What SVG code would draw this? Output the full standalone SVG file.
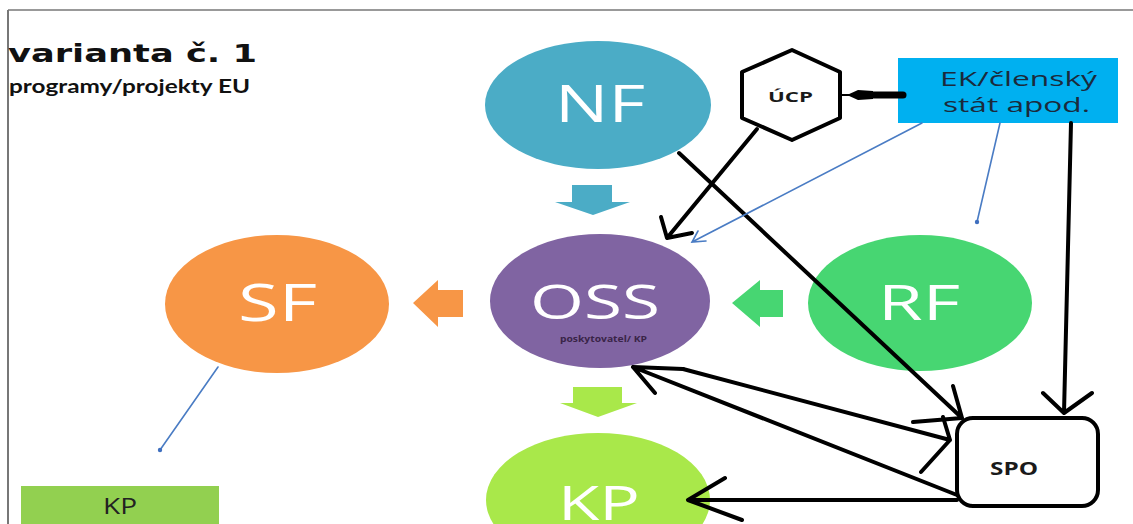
<svg xmlns="http://www.w3.org/2000/svg" width="1133" height="524" viewBox="0 0 1133 524">
<defs>
<style>
.big{font-family:"Open Sans","Liberation Sans",sans-serif;fill:#fff;}
.blk{fill:none;stroke:#000;stroke-width:4;stroke-linecap:round;stroke-linejoin:round;}
.blu{fill:none;stroke:#4A7CC4;stroke-width:1.6;stroke-linecap:round;}
.dot{fill:#3F6FBF;}
</style>
</defs>
<rect x="0" y="0" width="1133" height="524" fill="#fff"/>
<g id="frame">
<line x1="8" y1="10" x2="1133" y2="10" stroke="#777" stroke-width="1.5"/>
<line x1="8" y1="10" x2="8" y2="524" stroke="#777" stroke-width="2"/>
</g>
<g id="title">
<text x="8" y="62" font-family="DejaVu Sans,Verdana,sans-serif" font-weight="bold" font-size="24" fill="#111" textLength="249" lengthAdjust="spacingAndGlyphs">varianta č. 1</text>
<text x="9" y="93" font-family="Lato,'Open Sans',sans-serif" font-weight="bold" font-size="18" fill="#111" textLength="241" lengthAdjust="spacingAndGlyphs">programy/projekty EU</text>
</g>
<g id="NF">
<ellipse cx="598" cy="105" rx="113" ry="64" fill="#4BACC6"/>
<text class="big" x="555" y="122" font-size="51" textLength="90" lengthAdjust="spacingAndGlyphs">NF</text>
</g>
<g id="arrow-NF-OSS">
<polygon points="572,185 612,185 612,202 630,202 593,215 555,202 572,202" fill="#4BACC6"/>
</g>
<g id="OSS">
<ellipse cx="600" cy="301" rx="110" ry="67" fill="#8064A2"/>
<text class="big" x="530" y="319" font-size="48" textLength="130" lengthAdjust="spacingAndGlyphs">OSS</text>
<text x="560" y="342" font-family="'Open Sans','Liberation Sans',sans-serif" font-weight="bold" font-size="9" fill="#3A2448" textLength="87" lengthAdjust="spacingAndGlyphs">poskytovatel/ KP</text>
</g>
<g id="arrow-OSS-SF">
<polygon points="463,290 463,317 438,317 438,327 413,303 438,280 438,290" fill="#F79646"/>
</g>
<g id="SF">
<ellipse cx="277" cy="304" rx="112" ry="69" fill="#F79646"/>
<text class="big" x="238" y="321" font-size="52" textLength="79" lengthAdjust="spacingAndGlyphs">SF</text>
</g>
<g id="arrow-RF-OSS">
<polygon points="783,290 783,317 760,317 760,327 732,303 760,280 760,290" fill="#47D672"/>
</g>
<g id="RF">
<ellipse cx="920" cy="303" rx="112" ry="68" fill="#47D672"/>
<text class="big" x="878" y="320" font-size="50" textLength="82" lengthAdjust="spacingAndGlyphs">RF</text>
</g>
<g id="arrow-OSS-KP">
<polygon points="573,387 622,387 622,403 637,403 598,417 560,403 573,403" fill="#A9E84A"/>
</g>
<g id="KP">
<ellipse cx="598" cy="500" rx="112" ry="67" fill="#A9E84A"/>
<text class="big" x="558" y="520" font-size="48" textLength="82" lengthAdjust="spacingAndGlyphs">KP</text>
</g>
<g id="UCP">
<polygon points="792,50 840,72 840,118 792,140 742,118 742,72" fill="#fff" stroke="#000" stroke-width="4" stroke-linejoin="round"/>
<text x="768" y="102" font-family="'Open Sans','Liberation Sans',sans-serif" font-weight="bold" font-size="15" fill="#1a1a1a" textLength="45" lengthAdjust="spacingAndGlyphs">ÚCP</text>
</g>
<g id="EK">
<rect x="898" y="58" width="220" height="65" fill="#00B0F0"/>
<text x="940" y="86" font-family="'Open Sans','Liberation Sans',sans-serif" font-size="20" fill="#1B2A3C" textLength="157" lengthAdjust="spacingAndGlyphs">EK/členský</text>
<text x="943" y="112" font-family="'Open Sans','Liberation Sans',sans-serif" font-size="20" fill="#1B2A3C" textLength="147" lengthAdjust="spacingAndGlyphs">stát apod.</text>
</g>
<g id="SPO">
<rect x="957" y="418" width="141" height="88" rx="16" fill="#fff" stroke="#000" stroke-width="4"/>
<text x="990" y="475" font-family="'Open Sans','Liberation Sans',sans-serif" font-weight="bold" font-size="17" fill="#1a1a1a" textLength="48" lengthAdjust="spacingAndGlyphs">SPO</text>
</g>
<g id="KP-box">
<rect x="21" y="486" width="198" height="40" fill="#92D050"/>
<text x="103" y="514" font-family="'Open Sans','Liberation Sans',sans-serif" font-size="21" fill="#222" textLength="34" lengthAdjust="spacingAndGlyphs">KP</text>
</g>
<g id="connectors">
<path class="blk" d="M903,95 L870,95" style="stroke-width:7"/>
<path d="M873,91 L858,90 L847,95 L858,100 L873,99 Z" fill="#000"/>
<path class="blk" d="M850,95 L841,95" style="stroke-width:2"/>
<path class="blk" d="M757,129 L667,238 M661,217 L667,238 L692,233"/>
<path class="blk" d="M679,153 L962,418 M953,386 L962,418 M913,422 L962,418"/>
<path class="blk" d="M1071,123 L1064,413 M1043,393 L1064,413 L1092,393"/>
<path class="blk" d="M683,369 L950,440 M943,417 L950,440 L921,472"/>
<path class="blk" d="M957,495 L633,367 M655,393 L633,367 L683,369"/>
<path class="blk" d="M957,500 L688,500 M725,478 L688,500 L742,520"/>
<path class="blu" d="M922,123 L692,242 M698,231 L692,242 L706,241"/>
<path class="blu" d="M1000,123 L977,222"/>
<circle class="dot" cx="977" cy="222" r="2.2"/>
<path class="blu" d="M218,367 L160,450"/>
<circle class="dot" cx="160" cy="450" r="2.2"/>
</g>
</svg>
